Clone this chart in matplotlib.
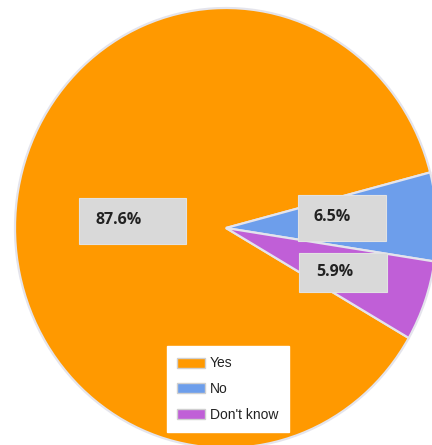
import matplotlib
matplotlib.use("Agg")
import matplotlib.pyplot as plt
from matplotlib.patches import Rectangle, Patch

# ---- data ----
categories = ["Yes", "No", "Don't know"]
values = [87.6, 6.5, 5.9]
value_labels = ["87.6%", "6.5%", "5.9%"]
colors = ["#ff9900", "#6d9eeb", "#c05fd7"]

# ---- layout (pixels of a 432x445 canvas) ----
W, H = 432, 445
CX, CY = 226, 228          # pie centre
RX, RY = 211, 220          # horizontal / vertical radius in px
label_boxes = [            # (left, top, right, bottom, text_left)
    (79, 198, 186, 244, 95),
    (298, 195, 386, 241, 314),
    (299, 253, 387, 292, 316),
]

fig = plt.figure(figsize=(W / 100, H / 100), dpi=100)
ax = fig.add_axes([0, 0, 1, 1])
ax.pie(values, colors=colors, startangle=-30, counterclock=False,
       wedgeprops=dict(edgecolor="#e4e4ec", linewidth=1.6))
ax.set_aspect("auto")
ax.set_xlim(-CX / RX, (W - CX) / RX)
ax.set_ylim((CY - H) / RY, CY / RY)
ax.axis("off")


def px(x, y):
    return (x - CX) / RX, (CY - y) / RY


for (l, t, r, b, tx), lab in zip(label_boxes, value_labels):
    x0, y0 = px(l, b)
    x1, y1 = px(r, t)
    ax.add_patch(Rectangle((x0, y0), x1 - x0, y1 - y0, facecolor="#d9d9d9",
                           edgecolor="#e2e2e2", linewidth=0.8, zorder=5))
    tx_, ty_ = px(tx, (t + b) / 2 - 1)
    ax.text(tx_, ty_, lab, ha="left", va="center", fontsize=11.5,
            fontweight="bold", family=["Open Sans", "DejaVu Sans"],
            color="#222222", zorder=6)

handles = [Patch(facecolor=c, edgecolor="#cfcfcf", linewidth=1.0) for c in colors]
leg = fig.legend(handles, categories, loc="upper left",
                 bbox_to_anchor=(167 / W, 1 - 346 / H),
                 bbox_transform=fig.transFigure,
                 prop=dict(family=["Liberation Sans", "DejaVu Sans"], size=10),
                 frameon=True, fancybox=False, framealpha=1,
                 borderaxespad=0, borderpad=0.75, handlelength=1.95,
                 handleheight=0.72, handletextpad=0.4, labelspacing=0.85)
leg.get_frame().set_facecolor("white")
leg.get_frame().set_edgecolor("white")
for t in leg.get_texts():
    t.set_color("#222222")

fig.savefig("out.png", dpi=100)
